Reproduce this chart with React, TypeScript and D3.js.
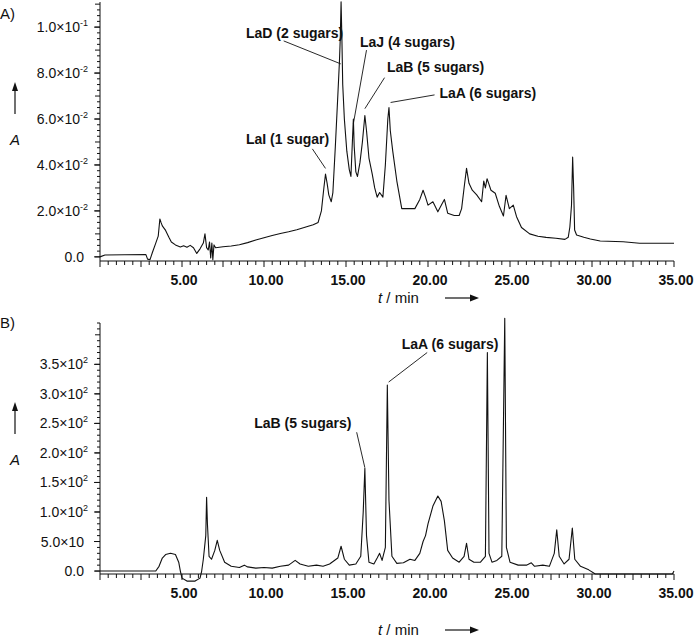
import React from "react";
import * as d3 from "d3";

// ---------- DATA ----------
// Panel A: time (min) and absorbance
const tA = [0, 0.3, 1.5, 2.8, 2.9, 3.05, 3.2, 3.4, 3.55, 3.65, 3.72, 3.8, 4.0, 4.2, 4.35, 4.6, 4.9, 5.1, 5.3, 5.5, 5.7, 5.9, 6.1, 6.3, 6.4, 6.5, 6.6, 6.68, 6.75, 6.82, 6.88, 6.95, 7.05, 7.5, 8.0, 8.5, 9.0, 9.5, 10.0, 10.5, 11.0, 11.5, 12.0, 12.5, 13.0, 13.3, 13.5, 13.65, 13.75, 13.85, 13.95, 14.1, 14.2, 14.35, 14.5, 14.6, 14.65, 14.7, 14.75, 14.8, 14.9, 15.05, 15.2, 15.3, 15.4, 15.45, 15.5, 15.6, 15.7, 15.85, 16.0, 16.15, 16.25, 16.4, 16.6, 16.75, 16.9, 17.05, 17.25, 17.4, 17.55, 17.62, 17.7, 17.85, 18.1, 18.4, 18.8, 19.2, 19.5, 19.7, 19.85, 20.0, 20.3, 20.6, 20.85, 21.0, 21.2, 21.6, 21.9, 22.05, 22.2, 22.35, 22.5, 22.7, 22.97, 23.27, 23.4, 23.5, 23.6, 23.7, 23.84, 24.1, 24.35, 24.6, 24.76, 24.96, 25.2, 25.4, 25.7, 26.2, 26.7, 27.2, 27.8, 28.35, 28.55, 28.65, 28.75, 28.82, 28.88, 28.94, 29.06, 29.5, 29.9, 30.5, 31.9, 32.9, 35.0];
const vA = [0, 0.0008, 0.0009, 0.001, -0.001, -0.0012, 0.002, 0.006, 0.009, 0.0165, 0.015, 0.0135, 0.0115, 0.0085, 0.0065, 0.0052, 0.0043, 0.0048, 0.0042, 0.005, 0.004, 0.0015, 0.0035, 0.006, 0.01, 0.004, 0.003, 0.0065, -0.0005, 0.006, -0.0012, 0.0052, 0.004, 0.0044, 0.0047, 0.0053, 0.0062, 0.0073, 0.0083, 0.0093, 0.0102, 0.0109, 0.0118, 0.0129, 0.014, 0.015, 0.02, 0.03, 0.036, 0.032, 0.027, 0.024, 0.028, 0.048, 0.07, 0.085, 0.095, 0.111, 0.095, 0.075, 0.06, 0.046, 0.038, 0.035, 0.052, 0.06, 0.048, 0.037, 0.035, 0.041, 0.05, 0.0615, 0.055, 0.043, 0.036, 0.03, 0.026, 0.028, 0.026, 0.04, 0.06, 0.065, 0.055, 0.046, 0.033, 0.021, 0.021, 0.021, 0.025, 0.029, 0.026, 0.0225, 0.024, 0.0196, 0.023, 0.025, 0.019, 0.018, 0.018, 0.021, 0.03, 0.0385, 0.032, 0.029, 0.027, 0.024, 0.033, 0.03, 0.034, 0.032, 0.029, 0.0277, 0.022, 0.0178, 0.0268, 0.021, 0.0225, 0.0175, 0.0128, 0.01, 0.009, 0.0085, 0.0081, 0.0076, 0.0085, 0.013, 0.0225, 0.0434, 0.03, 0.0117, 0.0095, 0.0085, 0.0078, 0.0069, 0.0066, 0.0059, 0.0059];

// Panel B: time (min) and absorbance
const tB = [0, 3.4, 3.6, 3.8, 4.0, 4.3, 4.6, 4.8, 4.9, 5.0, 5.3, 5.8, 6.1, 6.2, 6.3, 6.45, 6.5, 6.55, 6.65, 6.8, 7.0, 7.15, 7.3, 7.6, 8.0, 8.5, 8.8, 9.0, 9.5, 10.0, 10.5, 11.0, 11.5, 11.9, 12.2, 12.7, 13.2, 13.6, 14.0, 14.5, 14.7, 14.9, 15.2, 15.6, 15.9, 16.05, 16.15, 16.25, 16.4, 16.7, 16.9, 17.05, 17.2, 17.4, 17.52, 17.62, 17.8, 18.1, 18.5, 18.9, 19.2, 19.5, 19.7, 19.85, 20.0, 20.3, 20.6, 20.8, 21.0, 21.2, 21.5, 21.9, 22.2, 22.35, 22.5, 22.8, 23.2, 23.5, 23.62, 23.72, 23.9, 24.2, 24.5, 24.68, 24.78, 25.0, 25.5, 26.0, 26.3, 26.5, 27.0, 27.4, 27.7, 27.85, 28.0, 28.3, 28.6, 28.8, 28.95, 29.3, 29.8, 30.2, 34.9, 35.0];
const vB = [0, 0, 8, 22, 28, 30, 28, 15, 0, -12, -17, -17, -12, 0, 20, 60, 125, 80, 25, 20, 35, 52, 35, 15, 8, 6, 10, 7, 5, 6, 5, 8, 10, 18, 12, 8, 10, 8, 12, 22, 42, 20, 10, 12, 25, 100, 174, 60, 15, 12, 22, 30, 18, 40, 315, 120, 25, 13, 14, 20, 18, 30, 50, 60, 80, 110, 127, 118, 85, 35, 22, 15, 25, 47, 20, 15, 15, 25, 370, 30, 15, 18, 25, 428, 40, 15, 10, 10, 14, 8, 10, 8, 30, 70, 25, 12, 20, 73, 20, 8, 2, -5, -5, 0];

// Axis ticks
const xTickLabels = [5, 10, 15, 20, 25, 30, 35];
const yTicksA = [0, 0.02, 0.04, 0.06, 0.08, 0.1];
const yLabelsA = [["0.0", ""], ["2.0×10", "-2"], ["4.0×10", "-2"], ["6.0×10", "-2"], ["8.0×10", "-2"], ["1.0×10", "-1"]];
const yTicksB = [0, 50, 100, 150, 200, 250, 300, 350];
const yLabelsB = [["0.0", ""], ["5.0×10", ""], ["1.0×10", "2"], ["1.5×10", "2"], ["2.0×10", "2"], ["2.5×10", "2"], ["3.0×10", "2"], ["3.5×10", "2"]];

// Annotations: label, peak (t, v), leader start (t, v), text position (t, v)
const annA = [
  { text: "LaD (2 sugars)", pt: 14.68, pv: 0.084, lt: 11.2, lv: 0.094, tx: 8.9, ty: 0.0975 },
  { text: "LaJ (4 sugars)", pt: 15.45, pv: 0.058, lt: 16.25, lv: 0.09, tx: 15.85, ty: 0.0935 },
  { text: "LaB (5 sugars)", pt: 16.15, pv: 0.0645, lt: 17.35, lv: 0.078, tx: 17.5, ty: 0.0825 },
  { text: "LaA (6 sugars)", pt: 17.72, pv: 0.0672, lt: 20.4, lv: 0.0705, tx: 20.7, ty: 0.0715 },
  { text: "LaI (1 sugar)", pt: 13.75, pv: 0.0385, lt: 12.95, lv: 0.047, tx: 8.9, ty: 0.0515 },
];
const annB = [
  { text: "LaB (5 sugars)", pt: 16.15, pv: 175, lt: 15.65, lv: 235, tx: 9.4, ty: 251 },
  { text: "LaA (6 sugars)", pt: 17.6, pv: 320, lt: 19.95, lv: 370, tx: 18.4, ty: 384 },
];

const FONT = "'Liberation Sans', Arial, Helvetica, sans-serif";
const INK = "#111";

const x = d3.scaleLinear().domain([0, 35]).range([100, 674]);

function Panel({ label, tArr, vArr, y, yTicks, yLabels, minorStep, majorStep, ann, axisY, topY, titleY, labelY, arrowTop }) {
  const line = d3.line<number>().x((d, i) => x(tArr[i])).y((d, i) => y(vArr[i]));
  const path = line(vArr) || "";
  const xMinor = d3.range(0, 35.0001, 0.5);
  const [y0, y1] = y.domain();
  const yMinor = d3.range(Math.ceil(y0 / minorStep) * minorStep, y1 + 1e-9, minorStep);
  return (
    <g>
      <text x={0} y={labelY} fontFamily={FONT} fontSize={15} fill={INK}>{label}</text>
      <line x1={15} x2={15} y1={arrowTop + 32} y2={arrowTop + 7} stroke={INK} strokeWidth={1.2} />
      <path d={`M15,${arrowTop} L12,${arrowTop + 9} L18,${arrowTop + 9} Z`} fill={INK} />
      <text x={15} y={arrowTop + 63} fontFamily={FONT} fontSize={15} fontStyle="italic" textAnchor="middle" fill={INK}>A</text>

      <line x1={100} x2={100} y1={topY} y2={axisY} stroke={INK} strokeWidth={1} />
      {yMinor.map((v, i) => {
        const isMajor = Math.abs(v / majorStep - Math.round(v / majorStep)) < 1e-6;
        return <line key={i} x1={isMajor ? 95 : 97} x2={100} y1={y(v)} y2={y(v)} stroke={INK} strokeWidth={1} />;
      })}
      {yTicks.map((v, i) => (
        <g key={i}>
          <line x1={94} x2={100} y1={y(v)} y2={y(v)} stroke={INK} strokeWidth={1} />
          <text x={yLabels[i][1] ? 88 : 84} y={y(v) + 5} fontFamily={FONT} fontSize={14} textAnchor="end" fill={INK}>
            {yLabels[i][0]}
            {yLabels[i][1] ? <tspan fontSize={9} dy={-6}>{yLabels[i][1]}</tspan> : null}
          </text>
        </g>
      ))}

      <line x1={100} x2={x(35)} y1={axisY} y2={axisY} stroke={INK} strokeWidth={1} />
      {xMinor.map((t, i) => (
        <line key={i} x1={x(t)} x2={x(t)} y1={axisY} y2={axisY + (i % 5 === 0 ? 6 : 4)} stroke={INK} strokeWidth={1} />
      ))}
      {xTickLabels.map((t, i) => (
        <text key={i} x={x(t) + 2} y={axisY + 24} fontFamily={FONT} fontSize={14} fontWeight="bold" textAnchor="middle" fill={INK}>
          {d3.format(".2f")(t)}
        </text>
      ))}
      <text x={378} y={titleY} fontFamily={FONT} fontSize={15} fill={INK}>
        <tspan fontStyle="italic">t</tspan> / min
      </text>
      <line x1={445} x2={472} y1={titleY - 5} y2={titleY - 5} stroke={INK} strokeWidth={1.2} />
      <path d={`M479,${titleY - 5} L470,${titleY - 8.5} L470,${titleY - 1.5} Z`} fill={INK} />

      <path d={path} fill="none" stroke={INK} strokeWidth={1.1} strokeLinejoin="round" />

      {ann.map((a, i) => (
        <g key={i}>
          <line x1={x(a.lt)} y1={y(a.lv)} x2={x(a.pt)} y2={y(a.pv)} stroke={INK} strokeWidth={0.9} />
          <text x={x(a.tx)} y={y(a.ty) + 5} fontFamily={FONT} fontSize={14} fontWeight="bold" fill={INK}>{a.text}</text>
        </g>
      ))}
    </g>
  );
}

export default function App() {
  const yA = d3.scaleLinear().domain([-0.0018, 0.1105]).range([261, 3]);
  const yB = d3.scaleLinear().domain([-5, 420]).range([574, 323]);
  return (
    <svg width={696} height={638} viewBox="0 0 696 638" style={{ position: "absolute", left: 0, top: 0, background: "#fff" }}>
      <rect x={0} y={0} width={696} height={638} fill="#fff" />
      <Panel label="A)" tArr={tA} vArr={vA} y={yA} yTicks={yTicksA} yLabels={yLabelsA} minorStep={0.0025} majorStep={0.01}
        ann={annA} axisY={261} topY={2} titleY={303} labelY={19} arrowTop={82} />
      <Panel label="B)" tArr={tB} vArr={vB} y={yB} yTicks={yTicksB} yLabels={yLabelsB} minorStep={10} majorStep={50}
        ann={annB} axisY={574} topY={323} titleY={635} labelY={328} arrowTop={402} />
    </svg>
  );
}
